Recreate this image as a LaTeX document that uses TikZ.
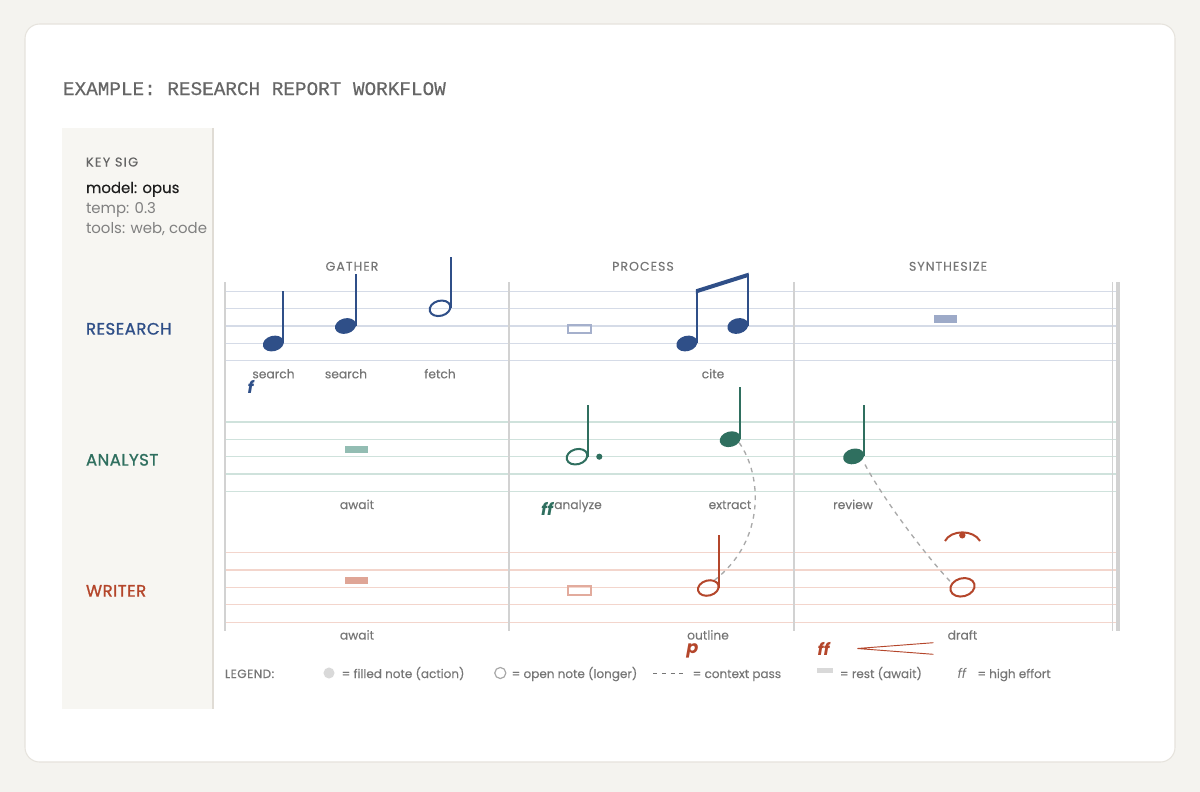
\documentclass[tikz,border=0pt]{standalone}
\usepackage{fontspec}
\setmainfont{Poppins}
\newfontfamily\titlefont{Liberation Mono}
\usetikzlibrary{shapes.geometric}
\definecolor{bgc}{HTML}{F4F3EF}
\definecolor{cardline}{HTML}{E6E3DD}
\definecolor{panel}{HTML}{F7F6F2}
\definecolor{panelline}{HTML}{E0DCD5}
\definecolor{titlegray}{HTML}{666666}
\definecolor{keygray}{HTML}{666666}
\definecolor{dark}{HTML}{1E1E1E}
\definecolor{softgray}{HTML}{808080}
\definecolor{lblgray}{HTML}{767676}
\definecolor{nblue}{HTML}{2F4F88}
\definecolor{nteal}{HTML}{2F6F5F}
\definecolor{nrust}{HTML}{B4462B}
\definecolor{rline}{HTML}{D5DBE7}
\definecolor{aline}{HTML}{CFE2DC}
\definecolor{wline}{HTML}{F3D5CC}
\definecolor{barc}{HTML}{D2D2D2}
\definecolor{rrest}{HTML}{9DAAC8}
\definecolor{arest}{HTML}{93BDB3}
\definecolor{wrest}{HTML}{DFA596}
\definecolor{ropen}{HTML}{A5B0CC}
\definecolor{wopen}{HTML}{E2AB9D}
\definecolor{ctxc}{HTML}{A9A9A9}
\definecolor{leggray}{HTML}{D9D9D9}
\definecolor{legline}{HTML}{A8A8A8}
\begin{document}
\begin{tikzpicture}[x=0.75pt,y=-0.75pt,
  txt/.style={inner sep=0pt, outer sep=0pt},
  lbl/.style={txt, anchor=base, text=lblgray, font=\fontsize{9.2}{11}\selectfont\addfontfeature{FakeBold=0.15}},
  sect/.style={txt, anchor=base, text=lblgray, font=\fontsize{9.4}{11}\selectfont\addfontfeature{LetterSpace=8,FakeBold=0.15}},
  role/.style={txt, anchor=base west, font=\fontsize{12.4}{14}\selectfont\addfontfeature{FakeBold=1.1,LetterSpace=3}},
  dyn/.style={txt, anchor=base west, font=\fontsize{12.5}{14}\selectfont\bfseries\itshape},
  leg/.style={txt, anchor=base west, text=lblgray, font=\fontsize{9}{11}\selectfont\addfontfeature{FakeBold=0.15}},
  fhead/.style={ellipse, fill=#1, inner sep=0pt, minimum width=16pt, minimum height=11.5pt, rotate=15},
  ohead/.style={ellipse, draw=#1, line width=1.5pt, inner sep=0pt, minimum width=15.8pt, minimum height=11.3pt, rotate=15},
  stemline/.style={draw=#1, line width=1.5pt},
  ctx/.style={draw=ctxc, line width=1pt, dash pattern=on 3.5pt off 3.5pt},
  barline/.style={draw=barc, line width=1pt}]
\useasboundingbox (0,0) rectangle (1200,792);
\fill[bgc] (0,0) rectangle (1200,792);
\draw[cardline, fill=white, line width=0.8pt, rounded corners=11pt] (25,24) rectangle (1175,762);
% key panel
\fill[panel] (62,128) rectangle (213,709);
\draw[panelline, line width=1.2pt] (213,128) -- (213,709);
\node[txt, anchor=base west, text=titlegray, font=\titlefont\fontsize{14.5}{16}\selectfont\addfontfeature{FakeBold=0.4}] (title) at (63,95) {EXAMPLE: RESEARCH REPORT WORKFLOW};
\node[txt, anchor=base west, text=keygray, font=\fontsize{9.6}{11}\selectfont\addfontfeature{LetterSpace=10,FakeBold=0.3}] (keysig) at (86,166.5) {KEY SIG};
\node[txt, anchor=base west, text=dark, font=\fontsize{11.2}{13}\selectfont\addfontfeature{FakeBold=0.2}] (model) at (86,193) {model: opus};
\node[txt, anchor=base west, text=softgray, font=\fontsize{11.2}{13}\selectfont] (temp) at (86,213) {temp: 0.3};
\node[txt, anchor=base west, text=softgray, font=\fontsize{11.2}{13}\selectfont] (tools) at (86,233.5) {tools: web, code};
% section headings
\node[sect] (gather) at (352,270.7) {GATHER};
\node[sect] (process) at (643,270.7) {PROCESS};
\node[sect] (synth) at (948,270.7) {SYNTHESIZE};
% staff lines
\foreach \i in {0,...,4} {
  \draw[rline, line width=0.9pt] (225,{291.3+17.35*\i}) -- (1118,{291.3+17.35*\i});
  \draw[aline, line width=0.9pt] (225,{422+17.35*\i}) -- (1118,{422+17.35*\i});
  \draw[wline, line width=0.9pt] (225,{552.7+17.35*\i}) -- (1118,{552.7+17.35*\i});
}
% barlines
\draw[barline] (225,282) -- (225,631);
\draw[barline] (509,282) -- (509,631);
\draw[barline] (794,282) -- (794,631);
\draw[barline] (1112.7,282) -- (1112.7,631);
\fill[barc] (1116.2,282) rectangle (1120.2,631);
% role labels
\node[role, text=nblue] (research) at (86,334.6) {RESEARCH};
\node[role, text=nteal] (analyst) at (86,465.6) {ANALYST};
\node[role, text=nrust] (writer) at (86,596.6) {WRITER};
% ---------- research notes
\draw[stemline=nblue] (283.3,343) -- (283.3,291);
\node[fhead=nblue] (r1) at (273.3,343.5) {};
\draw[stemline=nblue] (355.5,326) -- (355.5,274);
\node[fhead=nblue] (r2) at (345.5,326) {};
\draw[stemline=nblue] (450.6,308) -- (450.6,257);
\node[ohead=nblue] (r3) at (440,308.3) {};
\draw[ropen, line width=1.3pt] (567.8,325.2) rectangle (590.8,333.2);
\draw[stemline=nblue] (696.7,343) -- (696.7,291);
\node[fhead=nblue] (r5) at (686.8,343.5) {};
\draw[stemline=nblue] (747.7,326) -- (747.7,274);
\node[fhead=nblue] (r6) at (737.8,326) {};
\fill[nblue] (695.9,289.3) -- (748.5,272.7) -- (748.5,276.9) -- (695.9,293.5) -- cycle;
\fill[rrest] (934,315) rectangle (956.7,322.7);
\node[lbl] (lsearch1) at (273.5,378.3) {search};
\node[lbl] (lsearch2) at (346,378.3) {search};
\node[lbl] (lfetch) at (440,378.3) {fetch};
\node[lbl] (lcite) at (713,378.3) {cite};
\node[dyn, text=nblue] (dynf) at (247.5,393) {f};
% ---------- analyst notes
\fill[arest] (345,445.7) rectangle (368.3,453.3);
\node[lbl] (lawait1) at (357,509) {await};
\draw[stemline=nteal] (588.4,457) -- (588.4,405);
\node[ohead=nteal] (a2) at (577,456.7) {};
\fill[nteal] (599.3,456.7) circle (2.3pt);
\node[lbl] (lanalyze) at (578,509) {analyze};
\node[dyn, text=nteal] (dynff1) at (541,515) {ff};
\draw[stemline=nteal] (740.4,439) -- (740.4,387);
\node[fhead=nteal] (a3) at (730.2,439.2) {};
\node[lbl] (lextract) at (730,509) {extract};
\draw[stemline=nteal] (863.8,456) -- (863.8,405);
\node[fhead=nteal] (a4) at (853.6,456.4) {};
\node[lbl] (lreview) at (853,509) {review};
% ---------- writer notes
\fill[wrest] (345,576.5) rectangle (368.3,584);
\node[lbl] (lawait2) at (357,639.5) {await};
\draw[wopen, line width=1.3pt] (568,586.2) rectangle (591,594.8);
\draw[stemline=nrust] (719.3,588) -- (719.3,535);
\node[ohead=nrust] (w3) at (708.3,588) {};
\node[lbl] (loutline) at (708,639.5) {outline};
\node[dyn, text=nrust, font=\fontsize{13}{15}\selectfont\bfseries\itshape] (dynp) at (686.5,653.5) {p};
\draw[nrust, line width=1.5pt] (945,541) .. controls (951,529.5) and (973.5,529.5) .. (980,541);
\fill[nrust] (962.3,535.3) circle (2.4pt);
\node[ohead=nrust, minimum width=18.5pt, minimum height=13.5pt] (w5) at (962.5,587.3) {};
\node[lbl] (ldraft) at (962.5,639.5) {draft};
\node[dyn, text=nrust] (dynff2) at (817.5,655) {ff};
\draw[nrust, line width=0.7pt] (933.3,642.7) -- (857.3,648.5) -- (933.3,654.3);
% context passes
\draw[ctx] (a3.south east) .. controls (762,475) and (766,540) .. (w3.north east);
\draw[ctx, shorten <=4pt] (a4.south east) .. controls (882,497) and (925,555) .. (w5.north west);
% ---------- legend
\node[leg, font=\fontsize{9}{11}\selectfont\addfontfeature{LetterSpace=4,FakeBold=0.15}] (legend) at (225,678) {LEGEND:};
\node[circle, fill=leggray, inner sep=0pt, minimum size=8.3pt] (legfilled) at (329,673) {};
\node[leg] (legt1) at (341.7,678) {= filled note (action)};
\node[circle, draw=legline, line width=0.9pt, inner sep=0pt, minimum size=8.3pt] (legopen) at (500.3,673) {};
\node[leg] (legt2) at (511.7,678) {= open note (longer)};
\draw[draw=lblgray, line width=0.9pt, dash pattern=on 3.2pt off 3.4pt] (653,673.5) -- (683,673.5);
\node[leg] (legt3) at (692.7,678) {= context pass};
\fill[leggray] (817.3,668.3) rectangle (832.7,672.9);
\node[leg] (legt4) at (840,678) {= rest (await)};
\node[leg, font=\fontsize{10}{12}\selectfont\itshape] (legff) at (957.5,678) {ff};
\node[leg] (legt5) at (977.3,678) {= high effort};
\end{tikzpicture}
\end{document}
